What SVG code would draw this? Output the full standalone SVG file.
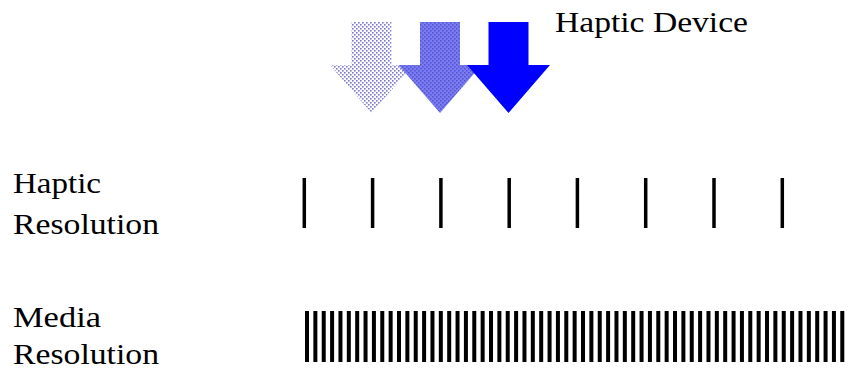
<svg xmlns="http://www.w3.org/2000/svg" width="848" height="373" viewBox="0 0 848 373">
<defs>
<style>
.lbl{font-family:"Liberation Serif","Times New Roman",serif;font-size:29.5px;fill:#000;}
.hbar{stroke:#000;stroke-width:3.5;}
</style>
<pattern id="dots1" width="4" height="4" patternUnits="userSpaceOnUse">
<rect width="4" height="4" fill="#fafaff"/>
<rect x="0" y="0" width="1.6" height="1.6" fill="#7c7cc8"/>
<rect x="2" y="2" width="1.6" height="1.6" fill="#7c7cc8"/>
</pattern>
<pattern id="dots2" width="4" height="4" patternUnits="userSpaceOnUse">
<rect width="4" height="4" fill="#7c7cf2"/>
<rect x="0" y="0" width="1.6" height="1.6" fill="#5656d4"/>
<rect x="2" y="2" width="1.6" height="1.6" fill="#5656d4"/>
</pattern>
</defs>
<rect width="848" height="373" fill="#fff"/>
<g id="arrows">
<path id="arrow1" d="M351.5,22 H391.5 V65 H413 L371.5,113 L330,65 H351.5 Z" fill="url(#dots1)"/>
<path id="arrow2" d="M420,22 H460 V65 H481.5 L440,113 L398.5,65 H420 Z" fill="url(#dots2)"/>
<path id="arrow3" d="M488.5,22 H528.5 V65 H550 L508.5,113 L467,65 H488.5 Z" fill="#0000ff"/>
</g>
<g id="title">
<text class="lbl" x="555" y="32" textLength="193" lengthAdjust="spacingAndGlyphs">Haptic Device</text>
</g>
<g id="haptic-label">
<text class="lbl" x="13" y="193" textLength="88" lengthAdjust="spacingAndGlyphs">Haptic</text>
<text class="lbl" x="13" y="234" textLength="146" lengthAdjust="spacingAndGlyphs">Resolution</text>
</g>
<g id="media-label">
<text class="lbl" x="13" y="327" textLength="88" lengthAdjust="spacingAndGlyphs">Media</text>
<text class="lbl" x="13" y="364" textLength="146" lengthAdjust="spacingAndGlyphs">Resolution</text>
</g>
<g id="haptic-bars">
<line class="hbar" x1="304.3" y1="178" x2="304.3" y2="228"/>
<line class="hbar" x1="372.6" y1="178" x2="372.6" y2="228"/>
<line class="hbar" x1="440.9" y1="178" x2="440.9" y2="228"/>
<line class="hbar" x1="509.2" y1="178" x2="509.2" y2="228"/>
<line class="hbar" x1="577.4" y1="178" x2="577.4" y2="228"/>
<line class="hbar" x1="645.7" y1="178" x2="645.7" y2="228"/>
<line class="hbar" x1="714" y1="178" x2="714" y2="228"/>
<line class="hbar" x1="782.3" y1="178" x2="782.3" y2="228"/>
</g>
<g id="media-bars">
<line x1="305" y1="336.5" x2="844.3" y2="336.5" stroke="#000" stroke-width="51" stroke-dasharray="4 4.364"/>
</g>
</svg>
